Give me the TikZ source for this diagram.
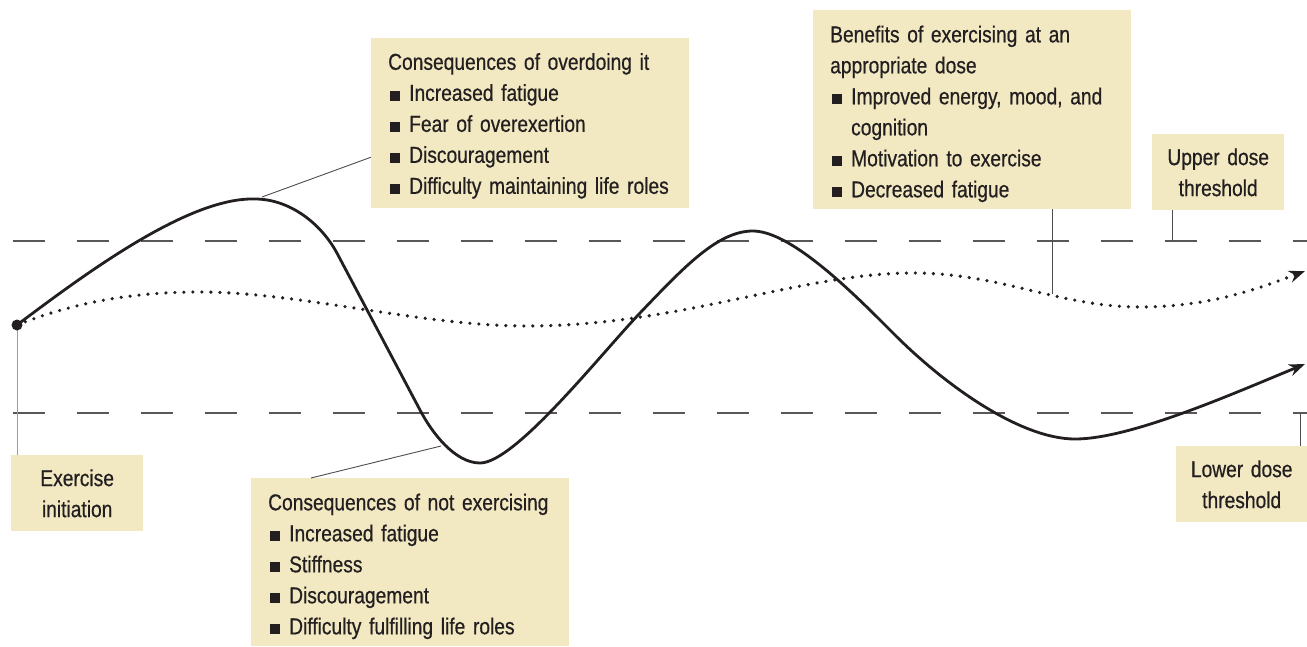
\documentclass[tikz,border=0pt]{standalone}
\usepackage{fontspec}
\setmainfont{Liberation Sans}[FakeStretch=0.835,FakeBold=0.6,WordSpace=0.75]
\usetikzlibrary{calc,positioning,arrows.meta}
\definecolor{boxfill}{RGB}{242,233,195}
\definecolor{ink}{RGB}{35,31,32}
\tikzset{line/.style={draw, ink, line width=2.8pt, -{Stealth[length=16pt,width=12pt]}}}
\newcommand{\sqbul}{\hspace*{2pt}\rule{10pt}{10pt}\hspace*{9pt}}
\newcommand{\toppad}[1]{\rule{0pt}{#1}}

\begin{document}
\begin{tikzpicture}[x=1pt,y=-1pt]
\tikzstyle{block} = [rectangle, fill=boxfill, text=ink, inner sep=0pt, font=\fontsize{23}{31}\selectfont]
\tikzstyle{listblock} = [block, anchor=north west, align=left, inner xsep=17pt, text width=284pt]
\tikzstyle{tagblock} = [block, anchor=north west, align=center, text width=110pt, minimum width=132pt, minimum height=76pt]
\tikzstyle{dose} = [draw, ink!75, line width=1.3pt, dash pattern=on 32pt off 32pt]
\tikzstyle{pointer} = [draw, ink!80, line width=0.9pt]

\useasboundingbox (0,0) rectangle (1307,646);

% blocks
    \node [listblock, minimum height=170pt] (overdo) at (371,38) {\toppad{22pt}Consequences of overdoing it\\
        \sqbul Increased fatigue\\
        \sqbul Fear of overexertion\\
        \sqbul Discouragement\\
        \sqbul Difficulty maintaining life roles};
    \node [listblock, minimum height=199pt] (benefit) at (813,10) {\toppad{25pt}Benefits of exercising at an\\
        appropriate dose\\
        \sqbul Improved energy, mood, and\\
        \hspace*{21pt}cognition\\
        \sqbul Motivation to exercise\\
        \sqbul Decreased fatigue};
    \node [listblock, minimum height=168pt] (notex) at (251,478) {\toppad{25pt}Consequences of not exercising\\
        \sqbul Increased fatigue\\
        \sqbul Stiffness\\
        \sqbul Discouragement\\
        \sqbul Difficulty fulfilling life roles};
    \node [tagblock] (init) at (11,455) {\toppad{17pt}Exercise\\initiation};
    \node [tagblock] (upper dose) at (1152,134) {\toppad{17pt}Upper dose\\threshold};
    \node [tagblock, minimum width=131pt] (lower dose) at (1176,446) {\toppad{17pt}Lower dose\\threshold};

% thresholds
    \coordinate (upL) at (13,241);
    \coordinate (upR) at (1307,241);
    \coordinate (lowL) at (13,413);
    \coordinate (lowR) at (1307,413);
    \path [dose] (upL) -- (upR);
    \path [dose] (lowL) -- (lowR);

% curve points
    \coordinate (start) at (17,325);
    \coordinate (peak1) at (255,199);
    \coordinate (trough1) at (480,463);
    \coordinate (peak2) at (753,231);
    \coordinate (trough2) at (1075,439);
    \coordinate (end solid) at (1305,364);
    \coordinate (dpeak1) at (200,292);
    \coordinate (dtrough1) at (527,326);
    \coordinate (dpeak2) at (913,273);
    \coordinate (dtrough2) at (1140,307);
    \coordinate (end dotted) at (1305,271);
    \coordinate (over pt) at (262,197);
    \coordinate (notex pt) at (441,446);
    \coordinate (dose pt) at (1052,294);

% pointers
    \path [pointer, ink!45] (start |- init.north) -- (start);
    \path [pointer] (over pt) -- ($(overdo.west)+(0,34)$);
    \path [pointer] ($(notex.north west)+(60,0)$) -- (notex pt);
    \coordinate (bentick) at ($(benefit.south west)+(239,0)$);
    \path [pointer] (bentick) -- (bentick |- dose pt);
    \coordinate (uptick) at ($(upper dose.south west)+(20,0)$);
    \path [pointer] (uptick) -- (uptick |- upL);
    \coordinate (lowtick) at ($(lower dose.north west)+(124,0)$);
    \path [pointer] (lowtick) -- (lowtick |- lowL);

% curves
    \path [line, line width=3.6pt, dash pattern=on 0pt off 9pt, line cap=round] (start)
        .. controls (80,300) and (140,292) .. (dpeak1)
        .. controls (300,292) and (420,326) .. (dtrough1)
        .. controls (680,326) and (800,273) .. (dpeak2)
        .. controls (1000,273) and (1060,307) .. (dtrough2)
        .. controls (1210,307) and (1260,288) .. (end dotted);
    \path [line] (start)
        .. controls (90,270) and (190,197) .. (peak1)
        .. controls (290,199) and (322,224) .. (338,255) -- (420,410)
        .. controls (432,433) and (455,463) .. (trough1)
        .. controls (515,463) and (600,355) .. (640,313)
        .. controls (685,266) and (718,231) .. (peak2)
        .. controls (793,231) and (860,300) .. (895,335)
        .. controls (945,385) and (1020,439) .. (trough2)
        .. controls (1130,439) and (1230,395) .. (end solid);
    \fill [ink] (start) circle [radius=5.5pt];
\end{tikzpicture}
\end{document}
